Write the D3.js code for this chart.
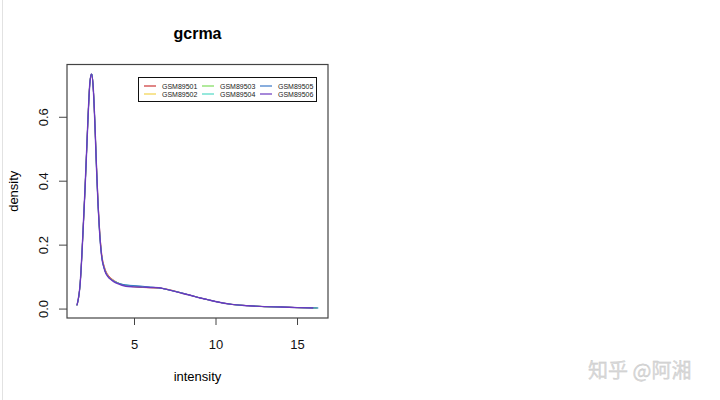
<!DOCTYPE html>
<html><head><meta charset="utf-8">
<script src="https://cdn.jsdelivr.net/npm/d3@7"></script>
<style>body{margin:0;background:#fff}svg{display:block}</style>
</head><body>
<svg id="c" width="720" height="400"></svg>
<script>
const seriesNames = ["GSM89501","GSM89502","GSM89503","GSM89504","GSM89505","GSM89506"];
const seriesColors = ["#cc3333","#f2d24a","#7ddc5a","#4fd8c4","#3a78c8","#6a38c0"];
const xs = [1.5,1.7,1.9,2.0,2.1,2.2,2.3,2.4,2.5,2.6,2.7,2.8,2.9,3.0,3.2,3.4,3.6,3.8,4.0,4.5,5.0,5.5,6.0,6.5,7.0,7.5,8.0,8.5,9.0,9.5,10,11,12,13,14,15,16];
const s1 = [0.010,0.08,0.27,0.38,0.50,0.62,0.71,0.733,0.69,0.58,0.45,0.33,0.24,0.18,0.128,0.106,0.095,0.087,0.081,0.072,0.068,0.066,0.065,0.064,0.061,0.055,0.048,0.041,0.034,0.028,0.022,0.013,0.009,0.006,0.005,0.003,0.0018];
const s2 = [0.010,0.08,0.27,0.38,0.50,0.62,0.71,0.733,0.69,0.58,0.44,0.325,0.235,0.175,0.124,0.103,0.093,0.086,0.080,0.072,0.069,0.068,0.066,0.065,0.060,0.054,0.047,0.041,0.034,0.028,0.022,0.013,0.009,0.006,0.005,0.003,0.0018];
const s3 = [0.010,0.08,0.27,0.38,0.50,0.62,0.71,0.734,0.69,0.58,0.44,0.32,0.23,0.172,0.122,0.102,0.092,0.085,0.080,0.073,0.070,0.068,0.066,0.065,0.060,0.054,0.047,0.041,0.034,0.028,0.022,0.013,0.009,0.006,0.005,0.003,0.0018];
const s4 = [0.010,0.08,0.27,0.38,0.50,0.62,0.71,0.734,0.69,0.58,0.44,0.32,0.23,0.172,0.122,0.101,0.091,0.085,0.080,0.074,0.071,0.069,0.067,0.065,0.060,0.054,0.048,0.041,0.034,0.028,0.022,0.013,0.009,0.006,0.005,0.003,0.0018];
const s5 = [0.010,0.08,0.27,0.38,0.50,0.62,0.71,0.734,0.69,0.58,0.44,0.32,0.23,0.171,0.121,0.101,0.091,0.085,0.080,0.074,0.072,0.070,0.067,0.065,0.060,0.054,0.048,0.041,0.034,0.028,0.022,0.013,0.009,0.006,0.005,0.003,0.0018];
const s6 = [0.010,0.08,0.27,0.38,0.50,0.62,0.71,0.734,0.69,0.58,0.44,0.32,0.23,0.17,0.12,0.100,0.090,0.083,0.078,0.070,0.068,0.067,0.066,0.065,0.060,0.054,0.047,0.041,0.034,0.028,0.022,0.013,0.009,0.006,0.005,0.003,0.0018];
const seriesEnds = [16.2,16.25,16.2,16.3,16.3,16.0];
const seriesValues = [s1,s2,s3,s4,s5,s6];
const xTicks = [5,10,15];
const yTicks = [0.0,0.2,0.4,0.6];
const yTickLabels = ["0.0","0.2","0.4","0.6"];
const title = "gcrma", xLabel = "intensity", yLabel = "density";

const svg = d3.select("#c");
const L=67,R=328,T=64.5,B=318;
const x = d3.scaleLinear().domain([0.89,16.9]).range([L,R]);
const y = d3.scaleLinear().domain([-0.0295,0.7635]).range([B,T]);
const font = "Liberation Sans, Arial, sans-serif";

svg.append("line").attr("x1",2.5).attr("x2",2.5).attr("y1",0).attr("y2",400).attr("stroke","#e2e2e2");

const line = d3.line().x(d=>x(d[0])).y(d=>y(d[1])).curve(d3.curveMonotoneX);
seriesValues.forEach((vals,i)=>{
  const pts = xs.map((v,j)=>[v,vals[j]]);
  pts[pts.length-1] = [seriesEnds[i], vals[vals.length-1]];
  svg.append("path").attr("d",line(pts)).attr("fill","none")
    .attr("stroke",seriesColors[i]).attr("stroke-width",i===5?1.4:1);
});

svg.append("rect").attr("x",L).attr("y",T).attr("width",R-L).attr("height",B-T)
  .attr("fill","none").attr("stroke","#444").attr("stroke-width",1.2);

const gx = svg.append("g").attr("transform",`translate(0,${B})`)
  .call(d3.axisBottom(x).tickValues(xTicks).tickSize(7).tickPadding(15).tickFormat(d3.format("d")));
gx.select(".domain").remove();
const gy = svg.append("g").attr("transform",`translate(${L},0)`)
  .call(d3.axisLeft(y).tickValues(yTicks).tickSize(8).tickFormat((d,i)=>yTickLabels[i]));
gy.select(".domain").remove();
[gx,gy].forEach(g=>{g.selectAll("line").attr("stroke","#444");
  g.selectAll("text").attr("font-family",font).attr("font-size",13).attr("fill","#111");});
gy.selectAll(".tick text").attr("text-anchor","middle").attr("x",0).attr("dy",0)
  .attr("transform","translate(-19,0) rotate(-90)");

svg.append("text").attr("x",(L+R)/2).attr("y",39).attr("text-anchor","middle")
  .attr("font-family",font).attr("font-size",16).attr("font-weight","bold").text(title);
svg.append("text").attr("x",(L+R)/2).attr("y",381).attr("text-anchor","middle")
  .attr("font-family",font).attr("font-size",13).text(xLabel);
svg.append("text").attr("transform",`translate(18,${(T+B)/2}) rotate(-90)`).attr("text-anchor","middle")
  .attr("font-family",font).attr("font-size",13).text(yLabel);

// legend
const lg = svg.append("g");
lg.append("rect").attr("x",138.5).attr("y",77.5).attr("width",178).attr("height",24)
  .attr("fill","#fff").attr("stroke","#111").attr("stroke-width",1);
seriesNames.forEach((n,i)=>{
  const col = Math.floor(i/2), row = i%2;
  const lx = 144 + col*58, ly = 86 + row*8;
  lg.append("line").attr("x1",lx).attr("x2",lx+12).attr("y1",ly).attr("y2",ly)
    .attr("stroke",seriesColors[i]).attr("stroke-width",1.2);
  lg.append("text").attr("x",lx+18).attr("y",ly+2.5).attr("font-family",font)
    .attr("font-size",7).attr("fill","#222").text(n);
});

svg.append("text").attr("x",588).attr("y",378).attr("font-family","Noto Sans CJK SC, sans-serif")
  .attr("font-size",20).attr("fill","#dadada").attr("stroke","#c4c4c4").attr("stroke-width",0.3).text("知乎 @阿湘");
</script>
</body></html>
